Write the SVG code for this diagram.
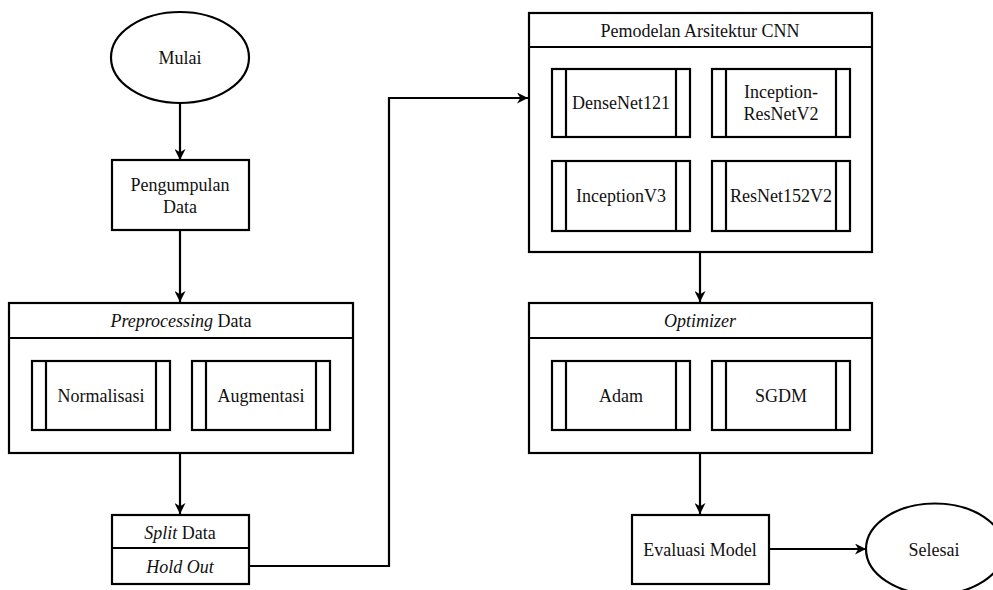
<svg xmlns="http://www.w3.org/2000/svg" width="993" height="590" viewBox="0 0 993 590">
<defs>
<marker id="arr" viewBox="0 0 10 10" refX="10" refY="5" markerWidth="11" markerHeight="11" markerUnits="userSpaceOnUse" orient="auto">
<path d="M0,0 L10,5 L0,10 L3,5 Z" fill="#000"/>
</marker>
<style>
.s{fill:#fff;stroke:#000;stroke-width:2.2}
.l{fill:none;stroke:#000;stroke-width:2.2}
.c{fill:none;stroke:#000;stroke-width:2.2}
text{font-family:'Liberation Serif','DejaVu Serif','Times New Roman',serif;font-size:18px;fill:#111;text-anchor:middle}
.i{font-style:italic}
</style>
</defs>
<rect width="993" height="590" fill="#fff"/>
<g id="connectors">
<path class="c" d="M180,103 V160" marker-end="url(#arr)"/>
<path class="c" d="M180,230 V302" marker-end="url(#arr)"/>
<path class="c" d="M180,453 V514" marker-end="url(#arr)"/>
<path class="c" d="M249,566 H389 V98 H528" marker-end="url(#arr)"/>
<path class="c" d="M700,252 V302" marker-end="url(#arr)"/>
<path class="c" d="M700,453 V514" marker-end="url(#arr)"/>
<path class="c" d="M769,549 H866" marker-end="url(#arr)"/>
</g>
<g id="mulai">
<ellipse class="s" cx="180" cy="57.5" rx="69" ry="45.5"/>
<text x="180" y="64">Mulai</text>
</g>
<g id="pengumpulan">
<rect class="s" x="112" y="160" width="137" height="70"/>
<text x="180" y="191">Pengumpulan</text>
<text x="180" y="213">Data</text>
</g>
<g id="preprocessing">
<rect class="s" x="9" y="303" width="344" height="150"/>
<line class="l" x1="9" y1="338" x2="353" y2="338"/>
<text x="181" y="327"><tspan class="i">Preprocessing</tspan> Data</text>
</g>
<g id="normalisasi">
<rect class="s" x="32" y="361" width="138" height="69"/>
<line class="l" x1="46" y1="361" x2="46" y2="430"/>
<line class="l" x1="156" y1="361" x2="156" y2="430"/>
<text x="101" y="402">Normalisasi</text>
</g>
<g id="augmentasi">
<rect class="s" x="192" y="361" width="138" height="69"/>
<line class="l" x1="206" y1="361" x2="206" y2="430"/>
<line class="l" x1="316" y1="361" x2="316" y2="430"/>
<text x="261" y="402">Augmentasi</text>
</g>
<g id="split">
<rect class="s" x="112" y="515" width="137" height="69"/>
<line class="l" x1="112" y1="548" x2="249" y2="548"/>
<text x="180" y="539"><tspan class="i">Split</tspan> Data</text>
<text x="180" y="573" class="i">Hold Out</text>
</g>
<g id="cnn">
<rect class="s" x="529" y="13" width="343" height="239"/>
<line class="l" x1="529" y1="47" x2="872" y2="47"/>
<text x="700" y="37">Pemodelan Arsitektur CNN</text>
</g>
<g id="densenet">
<rect class="s" x="552" y="69" width="138" height="68"/>
<line class="l" x1="566" y1="69" x2="566" y2="137"/>
<line class="l" x1="676" y1="69" x2="676" y2="137"/>
<text x="621" y="109">DenseNet121</text>
</g>
<g id="inceptionresnet">
<rect class="s" x="712" y="69" width="138" height="68"/>
<line class="l" x1="726" y1="69" x2="726" y2="137"/>
<line class="l" x1="836" y1="69" x2="836" y2="137"/>
<text x="781" y="98">Inception-</text>
<text x="781" y="120">ResNetV2</text>
</g>
<g id="inceptionv3">
<rect class="s" x="552" y="161" width="138" height="70"/>
<line class="l" x1="566" y1="161" x2="566" y2="231"/>
<line class="l" x1="676" y1="161" x2="676" y2="231"/>
<text x="621" y="202">InceptionV3</text>
</g>
<g id="resnet152">
<rect class="s" x="712" y="161" width="138" height="70"/>
<line class="l" x1="726" y1="161" x2="726" y2="231"/>
<line class="l" x1="836" y1="161" x2="836" y2="231"/>
<text x="781" y="202">ResNet152V2</text>
</g>
<g id="optimizer">
<rect class="s" x="529" y="303" width="343" height="150"/>
<line class="l" x1="529" y1="338" x2="872" y2="338"/>
<text x="700" y="327" class="i">Optimizer</text>
</g>
<g id="adam">
<rect class="s" x="552" y="361" width="138" height="69"/>
<line class="l" x1="566" y1="361" x2="566" y2="430"/>
<line class="l" x1="676" y1="361" x2="676" y2="430"/>
<text x="621" y="402">Adam</text>
</g>
<g id="sgdm">
<rect class="s" x="712" y="361" width="138" height="69"/>
<line class="l" x1="726" y1="361" x2="726" y2="430"/>
<line class="l" x1="836" y1="361" x2="836" y2="430"/>
<text x="781" y="402">SGDM</text>
</g>
<g id="evaluasi">
<rect class="s" x="632" y="515" width="137" height="69"/>
<text x="700" y="556">Evaluasi Model</text>
</g>
<g id="selesai">
<ellipse class="s" cx="935" cy="549" rx="69" ry="45.5"/>
<text x="934" y="556">Selesai</text>
</g>
</svg>
